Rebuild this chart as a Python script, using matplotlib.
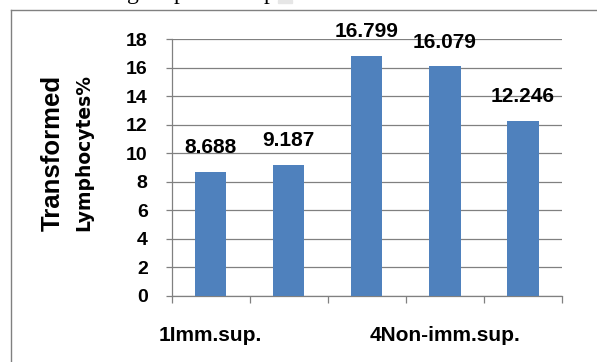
import matplotlib.pyplot as plt
from matplotlib.lines import Line2D
from matplotlib.patches import Rectangle

# category labels (Excel only printed every third one)
categories = ['1Imm.sup.', '', '', '4Non-imm.sup.', '']
values = [8.688, 9.187, 16.799, 16.079, 12.246]
y_ticks = [0, 2, 4, 6, 8, 10, 12, 14, 16, 18]

BLUE = '#4F81BD'
GRID = '#808080'
W, H = 597, 362

plt.rcParams['font.family'] = ['Liberation Sans', 'DejaVu Sans']

fig = plt.figure(figsize=(W / 100, H / 100), dpi=100)
ax = fig.add_axes([171.7 / W, 1 - 295.7 / H, (562 - 171.7) / W, (295.7 - 39) / H])

pos = list(range(1, len(values) + 1))
ax.bar(pos, values, width=0.4, color=BLUE, zorder=3)

for x, v in zip(pos, values):
    ax.annotate(f'{v:.3f}', (x, v), xytext=(0, 13.5), textcoords='offset points',
                ha='center', va='baseline', fontsize=15, fontweight='bold',
                annotation_clip=False)

ax.set_xlim(0.5, len(values) + 0.5)
ax.set_ylim(0, 18)
ax.set_yticks(y_ticks)
ax.set_xticks(pos)
ax.set_xticklabels(categories, fontsize=15, fontweight='bold')
ax.set_xticks([p - 0.5 for p in pos] + [pos[-1] + 0.5], minor=True)

ax.tick_params(axis='x', which='major', length=0, pad=21.5)
ax.tick_params(axis='x', which='minor', direction='out', length=5, width=0.9, color=GRID)
ax.tick_params(axis='y', direction='out', length=4.3, width=0.9, color=GRID, pad=13,
               labelsize=14)
for lbl in ax.get_yticklabels():
    lbl.set_fontweight('bold')

ax.yaxis.grid(True, color=GRID, linewidth=0.9, zorder=0)
ax.set_axisbelow(True)
for side in ['top', 'right']:
    ax.spines[side].set_visible(False)
for side in ['left', 'bottom']:
    ax.spines[side].set_color(GRID)
    ax.spines[side].set_linewidth(0.9)

# y label in two lines of different size
fig.text(52.5 / W, 1 - 152.5 / H, 'Transformed', rotation=90, ha='center', va='center',
         fontsize=18.5, fontweight='bold')
fig.text(83.5 / W, 1 - 152.5 / H, 'Lymphocytes%', rotation=90, ha='center', va='center',
         fontsize=13.5, fontweight='bold', family='DejaVu Sans')

# frame of the chart box (open to the right and bottom)
fig.add_artist(Line2D([10.5 / W, 10.5 / W], [0, 1 - 10 / H], color=GRID, lw=1.0))
fig.add_artist(Line2D([10.5 / W, 1], [1 - 10 / H, 1 - 10 / H], color=GRID, lw=1.0))

# cut-off caption text from the page above (only descenders show)
for gx, ch in [(133, 'g'), (179, 'p'), (270, 'p')]:
    fig.text(gx / W, 1 + 0.5 / H, ch, ha='center', va='baseline', fontsize=17,
             family='Liberation Serif')
fig.add_artist(Rectangle((278 / W, 1 - 3 / H), 14 / W, 3 / H, color='#e6e6e6',
                         transform=fig.transFigure))

fig.savefig('out.png', dpi=100)
